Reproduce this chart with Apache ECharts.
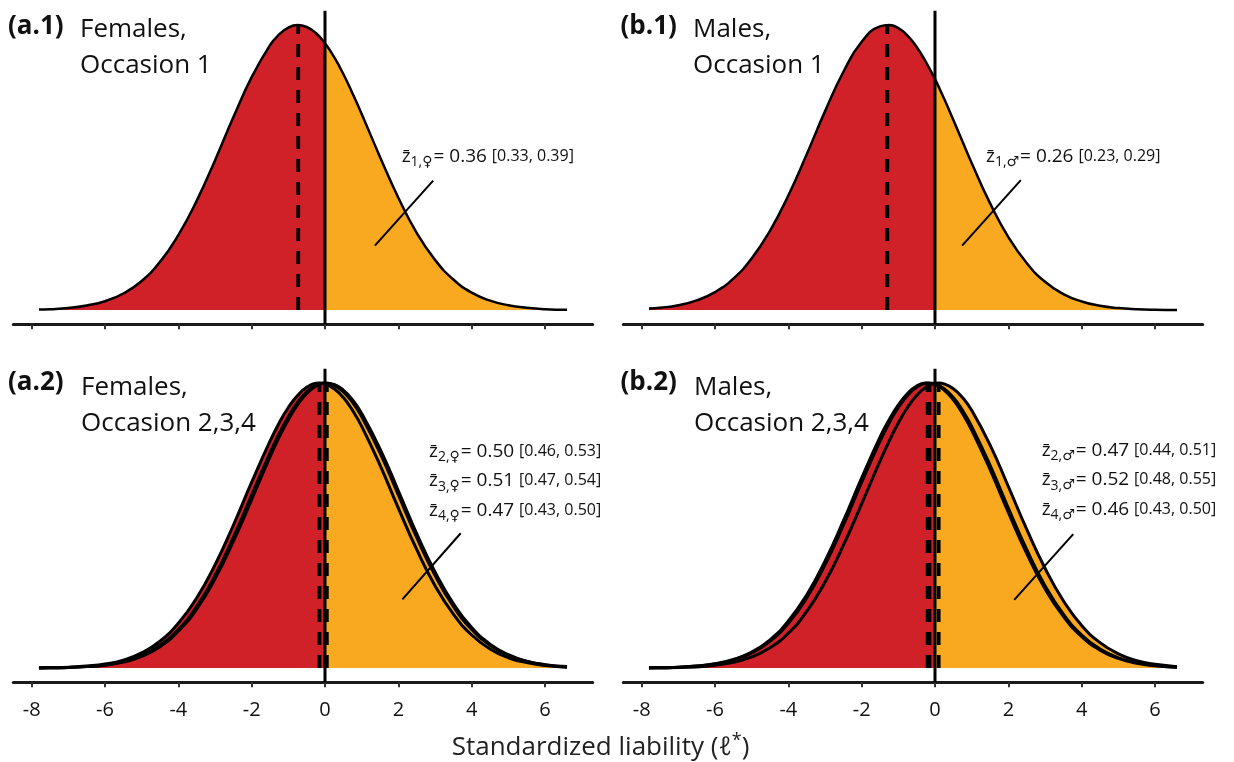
<!DOCTYPE html>
<html>
<head>
<meta charset="utf-8">
<title>Standardized liability</title>
<script src="https://cdn.jsdelivr.net/npm/echarts@6/dist/echarts.min.js"></script>
<style>
  html, body { margin: 0; padding: 0; background: #fff; }
  #chart { width: 1234px; height: 762px; }
</style>
</head>
<body>
<div id="chart"></div>
<script>
// liability values where the curves were read
const xs = [-7.8, -7.5, -7, -6.5, -6, -5.5, -5, -4.5, -4, -3.5, -3, -2.5, -2, -1.5, -1.25, -1, -0.75, -0.5, -0.25, 0, 0.25, 0.5, 0.75, 1, 1.5, 2, 2.5, 3, 3.5, 4, 4.5, 5, 5.5, 6, 6.6];

// curve heights (relative to the peak)
const femOcc1 = [0.002, 0.003, 0.007, 0.016, 0.031, 0.058, 0.102, 0.169, 0.263, 0.383, 0.525, 0.676, 0.817, 0.929, 0.967, 0.991, 1.000, 0.993, 0.972, 0.936, 0.887, 0.828, 0.760, 0.688, 0.537, 0.394, 0.271, 0.176, 0.107, 0.061, 0.033, 0.017, 0.008, 0.003, 0.001];
const maleOcc1 = [0.005, 0.008, 0.017, 0.034, 0.063, 0.110, 0.181, 0.278, 0.402, 0.546, 0.697, 0.835, 0.941, 0.995, 1.000, 0.989, 0.963, 0.923, 0.871, 0.810, 0.741, 0.667, 0.591, 0.516, 0.375, 0.256, 0.165, 0.099, 0.056, 0.030, 0.015, 0.007, 0.003, 0.001, 0.000];
const femOcc2 = [0.000, 0.001, 0.002, 0.005, 0.011, 0.023, 0.044, 0.080, 0.135, 0.216, 0.325, 0.458, 0.607, 0.755, 0.823, 0.882, 0.932, 0.969, 0.992, 1.000, 0.992, 0.969, 0.932, 0.882, 0.755, 0.607, 0.458, 0.325, 0.216, 0.135, 0.080, 0.044, 0.023, 0.011, 0.004];
const femOcc3 = [0.000, 0.001, 0.002, 0.005, 0.010, 0.021, 0.041, 0.075, 0.129, 0.207, 0.313, 0.444, 0.591, 0.741, 0.810, 0.871, 0.923, 0.963, 0.989, 1.000, 0.995, 0.975, 0.941, 0.893, 0.769, 0.622, 0.472, 0.337, 0.226, 0.142, 0.084, 0.047, 0.024, 0.012, 0.005];
const femOcc4 = [0.001, 0.001, 0.003, 0.007, 0.014, 0.028, 0.053, 0.094, 0.157, 0.246, 0.362, 0.501, 0.652, 0.796, 0.860, 0.914, 0.956, 0.985, 0.999, 0.997, 0.980, 0.949, 0.904, 0.848, 0.712, 0.561, 0.416, 0.289, 0.189, 0.116, 0.067, 0.036, 0.019, 0.009, 0.003];
const maleOcc2 = [0.001, 0.001, 0.003, 0.007, 0.014, 0.028, 0.053, 0.094, 0.157, 0.246, 0.362, 0.501, 0.652, 0.796, 0.860, 0.914, 0.956, 0.985, 0.999, 0.997, 0.980, 0.949, 0.904, 0.848, 0.712, 0.561, 0.416, 0.289, 0.189, 0.116, 0.067, 0.036, 0.019, 0.009, 0.003];
const maleOcc3 = [0.000, 0.001, 0.002, 0.004, 0.010, 0.020, 0.039, 0.071, 0.122, 0.198, 0.301, 0.430, 0.576, 0.726, 0.796, 0.860, 0.914, 0.956, 0.985, 0.999, 0.997, 0.980, 0.949, 0.904, 0.783, 0.637, 0.487, 0.350, 0.236, 0.149, 0.089, 0.050, 0.026, 0.013, 0.005];
const maleOcc4 = [0.001, 0.001, 0.003, 0.007, 0.015, 0.030, 0.056, 0.099, 0.165, 0.256, 0.375, 0.516, 0.667, 0.810, 0.871, 0.923, 0.963, 0.989, 1.000, 0.995, 0.975, 0.941, 0.893, 0.835, 0.697, 0.546, 0.402, 0.278, 0.181, 0.110, 0.063, 0.034, 0.017, 0.008, 0.003];

// means of each curve (dashed lines); each curve peaks there
const femMeans1 = [-0.73];
const maleMeans1 = [-1.30];
const femMeans234 = [0.00, 0.05, -0.15];
const maleMeans234 = [-0.15, 0.10, -0.20];
const peakHeight = 1;

// estimates printed on each panel: [occasion, sex, estimate, interval]
const femEst1 = [['1', '\u2640', '0.36', '[0.33, 0.39]']];
const maleEst1 = [['1', '\u2642', '0.26', '[0.23, 0.29]']];
const femEst234 = [['2', '\u2640', '0.50', '[0.46, 0.53]'], ['3', '\u2640', '0.51', '[0.47, 0.54]'], ['4', '\u2640', '0.47', '[0.43, 0.50]']];
const maleEst234 = [['2', '\u2642', '0.47', '[0.44, 0.51]'], ['3', '\u2642', '0.52', '[0.48, 0.55]'], ['4', '\u2642', '0.46', '[0.43, 0.50]']];

const tickVals = [-8, -6, -4, -2, 0, 2, 4, 6];

const red = '#D12128';
const orange = '#F8A920';
const font = '"Open Sans"';

const panels = [
  {tag: '(a.1)', title: 'Females,\nOccasion 1', curves: [femOcc1], means: femMeans1, est: femEst1,
   left: 13.3, top: 7.9, labels: false, lw: 2.5, tagX: 8, titleX: 80, tagY: 8.1, titleY: 11.3,
   estX: 401.7, estY: 143.3, leader: [[2.95, 0.454], [1.36, 0.226]]},
  {tag: '(b.1)', title: 'Males,\nOccasion 1', curves: [maleOcc1], means: maleMeans1, est: maleEst1,
   left: 623.3, top: 7.9, labels: false, lw: 2.5, tagX: 620.5, titleX: 693, tagY: 8.1, titleY: 11.3,
   estX: 986, estY: 143.3, leader: [[2.34, 0.456], [0.74, 0.226]]},
  {tag: '(a.2)', title: 'Females,\nOccasion 2,3,4', curves: [femOcc2, femOcc3, femOcc4], means: femMeans234, est: femEst234,
   left: 13.3, top: 365.9, labels: true, lw: 3, tagX: 8, titleX: 81, tagY: 364.6, titleY: 369.6,
   estX: 429, estY: 438.3, leader: [[3.70, 0.473], [2.11, 0.241]]},
  {tag: '(b.2)', title: 'Males,\nOccasion 2,3,4', curves: [maleOcc2, maleOcc3, maleOcc4], means: maleMeans234, est: maleEst234,
   left: 623.3, top: 365.9, labels: true, lw: 3, tagX: 620.5, titleX: 694, tagY: 364.6, titleY: 369.6,
   estX: 1041.7, estY: 437.3, leader: [[3.77, 0.470], [2.16, 0.239]]}
];

// curve points; the peak at the mean is added when no read point is close to it
function curvePoints(c, m) {
  const pts = xs.map((x, k) => [x, c[k]]);
  if (!xs.some(x => Math.abs(x - m) < 0.06)) pts.push([m, peakHeight]);
  return pts.sort((a, b) => a[0] - b[0]);
}

const grids = [], xAxes = [], yAxes = [], series = [], graphics = [];

panels.forEach((p, i) => {
  grids.push({left: p.left, top: p.top, width: 579.4, height: 316.4, outerBoundsMode: 'none'});
  xAxes.push({
    type: 'value', gridIndex: i, min: -8.5, max: 7.3,
    axisLine: {show: true, onZero: false, lineStyle: {color: '#1a1a1a', width: 3}},
    axisTick: {show: true, customValues: tickVals, length: 5, lineStyle: {color: '#333', width: 2}},
    axisLabel: {show: p.labels, customValues: tickVals, fontSize: 20, fontFamily: font, color: '#111', margin: 18},
    splitLine: {show: false}
  });
  yAxes.push({type: 'value', gridIndex: i, min: -0.05, max: 1.06, show: false});

  const curves = p.curves.map((c, j) => curvePoints(c, p.means[j]));

  // coloured fills: red below the threshold, orange above it
  curves.forEach(pts => {
    [[pts.filter(d => d[0] <= 0), red], [pts.filter(d => d[0] >= 0), orange]].forEach(([part, col]) => {
      series.push({
        type: 'line', xAxisIndex: i, yAxisIndex: i, smooth: true, symbol: 'none', silent: true, z: 1,
        data: part,
        lineStyle: {width: 0},
        itemStyle: {color: col},
        areaStyle: {color: col, opacity: 1, origin: 0}
      });
    });
  });
  // black outlines
  curves.forEach(pts => {
    series.push({
      type: 'line', xAxisIndex: i, yAxisIndex: i, smooth: true, symbol: 'none', silent: true, z: 3,
      data: pts,
      lineStyle: {color: '#000', width: p.lw}
    });
  });
  // dashed mean lines
  p.means.forEach(m => {
    series.push({
      type: 'line', xAxisIndex: i, yAxisIndex: i, symbol: 'none', silent: true, z: 4,
      data: [[m, 0], [m, peakHeight]],
      lineStyle: {color: '#000', width: 3.8, type: [13, 10]}
    });
  });
  // threshold at 0, plus the leader line of the estimate
  series.push({
    type: 'line', xAxisIndex: i, yAxisIndex: i, symbol: 'none', silent: true, z: 5,
    data: [[0, -0.05], [0, 1.05]],
    lineStyle: {color: '#000', width: 3},
    markLine: {
      silent: true, symbol: 'none', label: {show: false},
      lineStyle: {color: '#000', width: 2, type: 'solid'},
      data: [[{coord: p.leader[0]}, {coord: p.leader[1]}]]
    }
  });

  graphics.push({
    type: 'text', x: p.tagX, y: p.tagY,
    style: {text: p.tag, fontFamily: font, fontWeight: 'bold', fontSize: 26, lineHeight: 36, fill: '#111', verticalAlign: 'top'}
  });
  graphics.push({
    type: 'text', x: p.titleX, y: p.titleY,
    style: {text: p.title, fontFamily: font, fontSize: 26, lineHeight: 36, fill: '#111', verticalAlign: 'top'}
  });
  p.est.forEach((e, r) => {
    graphics.push({
      type: 'text', x: p.estX, y: p.estY + r * 29.5,
      style: {
        text: '{z|z\u0304}{sub|' + e[0] + ',}{sx|' + e[1] + '}{eq|= ' + e[2] + ' }{ci|' + e[3] + '}',
        verticalAlign: 'top', fill: '#111',
        rich: {
          z: {fontFamily: font, fontSize: 19, lineHeight: 26, fill: '#111'},
          sub: {fontFamily: font, fontSize: 14, lineHeight: 14, verticalAlign: 'bottom', fill: '#111'},
          sx: {fontFamily: '"DejaVu Sans"', fontSize: 14, lineHeight: 14, verticalAlign: 'bottom', fill: '#111', padding: [0, 1, 0, 0]},
          eq: {fontFamily: font, fontSize: 19, lineHeight: 26, fill: '#111'},
          ci: {fontFamily: font, fontSize: 16, lineHeight: 26, fill: '#111'}
        }
      }
    });
  });
});

graphics.push({
  type: 'text', x: 451.7, y: 731.6,
  style: {
    text: '{t|Standardized liability (}{t|\u2113}{sup|*}{t|)}',
    verticalAlign: 'top', fill: '#222',
    rich: {
      t: {fontFamily: font, fontSize: 26, lineHeight: 32, fill: '#222'},
      sup: {fontFamily: font, fontSize: 18, lineHeight: 18, verticalAlign: 'top', fill: '#222'}
    }
  }
});

const chart = echarts.init(document.getElementById('chart'));
chart.setOption({
  animation: false,
  backgroundColor: '#fff',
  grid: grids,
  xAxis: xAxes,
  yAxis: yAxes,
  series: series,
  graphic: graphics
});
</script>
</body>
</html>
